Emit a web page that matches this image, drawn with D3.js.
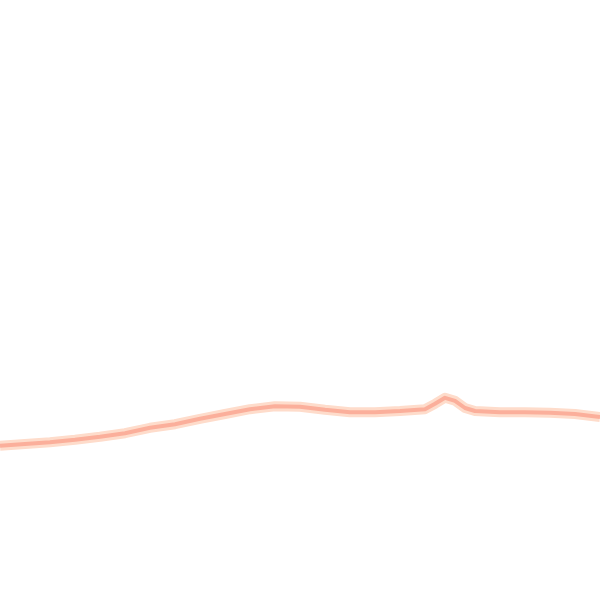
<!DOCTYPE html>
<html>
<head>
  <meta charset="utf-8">
  <title></title>
  <style>
    body { margin: 0; background: #fff; }
  </style>
  <script src="https://d3js.org/d3.v7.min.js"></script>
</head>
<body>
<svg></svg>
<script>
// time steps and values
var steps  = [0, 5, 10, 15, 20, 25, 30, 35, 40, 45, 50, 55, 60, 65, 70, 75, 80, 85, 87, 89, 91, 93, 95, 100, 105, 110, 115, 120];
var values = [25.7, 26.0, 26.3, 26.7, 27.2, 27.8, 28.7, 29.3, 30.2, 31.0, 31.8, 32.3, 32.2, 31.7, 31.3, 31.3, 31.5, 31.8, 32.7, 33.7, 33.2, 32.0, 31.5, 31.3, 31.3, 31.2, 31.0, 30.5];

var width = 600, height = 600;

var data = steps.map(function(s, i) { return {t: s, v: values[i]}; });

var svg = d3.select("svg")
    .attr("width", width)
    .attr("height", height);

var x = d3.scaleLinear().domain([0, 120]).range([0, width]);
var y = d3.scaleLinear().domain([0, 100]).range([height, 0]);

var line = d3.line()
    .x(function(d) { return x(d.t); })
    .y(function(d) { return y(d.v); });

// pale halo, then the main stroke
svg.append("path")
    .datum(data)
    .attr("fill", "none")
    .attr("stroke", "#fedccb")
    .attr("stroke-width", 10)
    .attr("stroke-linejoin", "round")
    .attr("d", line);

svg.append("path")
    .datum(data)
    .attr("fill", "none")
    .attr("stroke", "#fbaf9b")
    .attr("stroke-width", 4)
    .attr("stroke-linejoin", "round")
    .attr("d", line);
</script>
</body>
</html>
